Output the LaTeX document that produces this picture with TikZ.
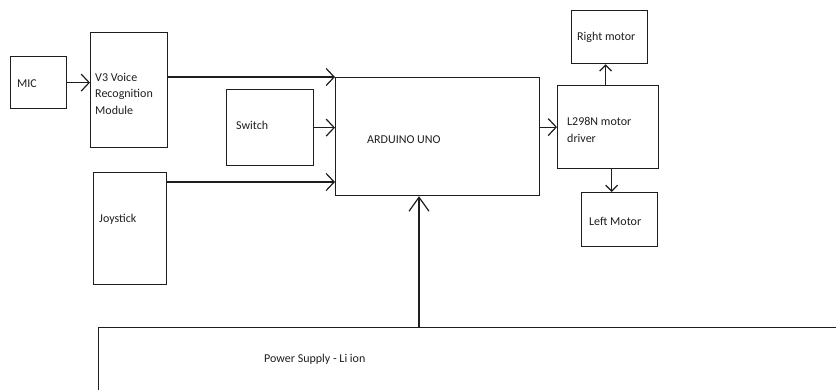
\documentclass[tikz,border=0pt]{standalone}
\usepackage{fontspec}
\setmainfont{Carlito}
\usetikzlibrary{arrows.meta}
\definecolor{ink}{HTML}{1E1E1E}
\begin{document}
\begin{tikzpicture}[x=1pt,y=-1pt,
  box/.style={draw=ink, line width=1.2pt, inner sep=0pt, anchor=north west},
  lbl/.style={anchor=west, inner sep=0pt, font=\fontsize{12}{16.5}\selectfont, text=ink, align=left},
  conn/.style={draw=ink, line width=1.2pt, -{Straight Barb[length=8pt,width=17pt,line width=1.2pt]}},
  smallconn/.style={draw=ink, line width=1.2pt, -{Straight Barb[length=6pt,width=12pt,line width=1.2pt]}},
  bigconn/.style={draw=ink, line width=1.2pt, -{Straight Barb[length=14pt,width=20pt,line width=1.2pt]}},
]
\useasboundingbox (0,0) rectangle (836,389);
\clip (0,0) rectangle (836,389);
% boxes
\node[box, minimum width=56pt, minimum height=52pt] (mic) at (10,56) {};
\node[box, minimum width=77pt, minimum height=115pt] (v3) at (90,32) {};
\node[box, minimum width=87pt, minimum height=76pt] (sw) at (226,89) {};
\node[box, minimum width=73pt, minimum height=112pt] (joy) at (93,172) {};
\node[box, minimum width=204pt, minimum height=118pt] (ard) at (335,77) {};
\node[box, minimum width=101pt, minimum height=83pt] (drv) at (557,85) {};
\node[box, minimum width=76pt, minimum height=53pt] (rm) at (571,10) {};
\node[box, minimum width=76pt, minimum height=54pt] (lm) at (581,192) {};
\node[box, minimum width=800pt, minimum height=90pt] (pw) at (98,327) {};
% labels
\node[lbl] (tmic) at (17,84) {MIC};
\node[lbl] (tv3) at (95,93.5) {V3 Voice\\Recognition\\Module};
\node[lbl] (tsw) at (236,125) {Switch};
\node[lbl] (tjoy) at (99,219) {Joystick};
\node[lbl] (tard) at (367,140) {ARDUINO UNO};
\node[lbl] (tdrv) at (567,130) {L298N motor\\driver};
\node[lbl] (trm) at (577,37) {Right motor};
\node[lbl] (tlm) at (589,221) {Left Motor};
\node[lbl] (tpw) at (264,359) {Power Supply - Li ion};
% connectors
\draw[conn] (mic.east) -- (mic.east -| v3.west);
\draw[conn] (v3.east |- ard.north) -- (ard.north west);
\draw[conn] (sw.east) -- (sw.east -| ard.west);
\coordinate (j1) at ([yshift=-10pt]joy.north east);
\draw[conn] (j1) -- (j1 -| ard.west);
\draw[conn] (ard.east |- drv.west) -- (drv.west);
\coordinate (r1) at ([xshift=-4pt]rm.south);
\draw[smallconn] (r1 |- drv.north) -- (r1);
\coordinate (l1) at ([xshift=-8pt]lm.north);
\draw[smallconn] (l1 |- drv.south) -- (l1);
\coordinate (p1) at (419,327);
\draw[bigconn] (p1) -- (p1 |- ard.south);
\end{tikzpicture}
\end{document}
